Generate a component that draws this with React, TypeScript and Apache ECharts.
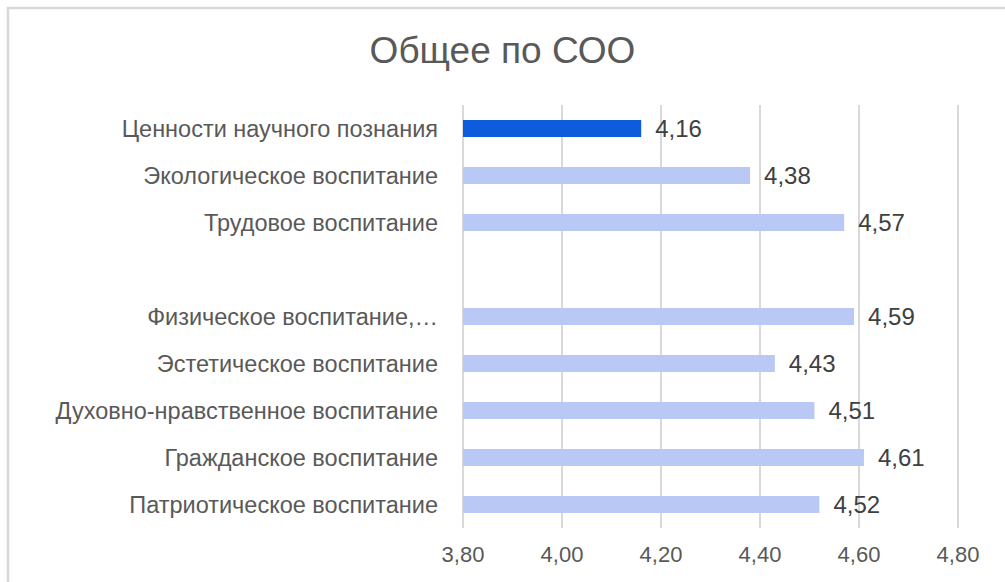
import React, { useEffect, useRef } from "react";
import * as echarts from "echarts";

const titleText = "Общее по СОО";
const categories = [
  "Патриотическое воспитание",
  "Гражданское воспитание",
  "Духовно-нравственное воспитание",
  "Эстетическое воспитание",
  "Физическое воспитание,…",
  "",
  "Трудовое воспитание",
  "Экологическое воспитание",
  "Ценности научного познания",
];
const values: (number | null)[] = [4.52, 4.61, 4.51, 4.43, 4.59, null, 4.57, 4.38, 4.16];
const highlightIndex = 8;
const axisMin = 3.8;
const axisMax = 4.8;
const axisStep = 0.2;

const fmt = (v: number) => v.toFixed(2).replace(".", ",");

export default function App() {
  const ref = useRef<HTMLDivElement>(null);
  useEffect(() => {
    document.body.style.margin = "0";
    const chart = echarts.init(ref.current!, null, { renderer: "svg" });
    chart.setOption({
      animation: false,
      backgroundColor: "#ffffff",
      textStyle: { fontFamily: "Liberation Sans" },
      title: {
        text: titleText,
        left: "center",
        top: 27,
        textStyle: { fontSize: 37, fontWeight: "normal", color: "#595959", fontFamily: "Liberation Sans" },
      },
      graphic: [
        { type: "rect", shape: { x: 8, y: 8, width: 1100, height: 700 }, style: { fill: "none", stroke: "#d9d9d9", lineWidth: 2.5 }, silent: true },
      ],
      grid: { left: 463, right: 47, top: 105, bottom: 54, containLabel: false },
      xAxis: {
        type: "value",
        min: axisMin,
        max: axisMax,
        interval: axisStep,
        axisLine: { show: false },
        axisTick: { show: false },
        splitLine: { show: true, lineStyle: { color: "#d9d9d9", width: 2 } },
        axisLabel: { color: "#595959", fontSize: 22, margin: 15, formatter: (v: number) => fmt(v) },
      },
      yAxis: {
        type: "category",
        data: categories,
        axisLine: { show: false },
        axisTick: { show: false },
        axisLabel: { color: "#595959", fontSize: 23.5, margin: 25 },
      },
      series: [
        {
          type: "bar",
          barWidth: 17,
          data: values.map((v, i) => ({
            value: v,
            itemStyle: { color: i === highlightIndex ? "#0e5cdb" : "#bac8f6" },
          })),
          label: {
            show: true,
            position: "right",
            distance: 14,
            color: "#404040",
            fontSize: 24,
            formatter: (p: any) => (p.value == null ? "" : fmt(p.value)),
          },
        },
      ],
    });
    return () => chart.dispose();
  }, []);
  return <div ref={ref} style={{ width: 1005, height: 582 }} />;
}
